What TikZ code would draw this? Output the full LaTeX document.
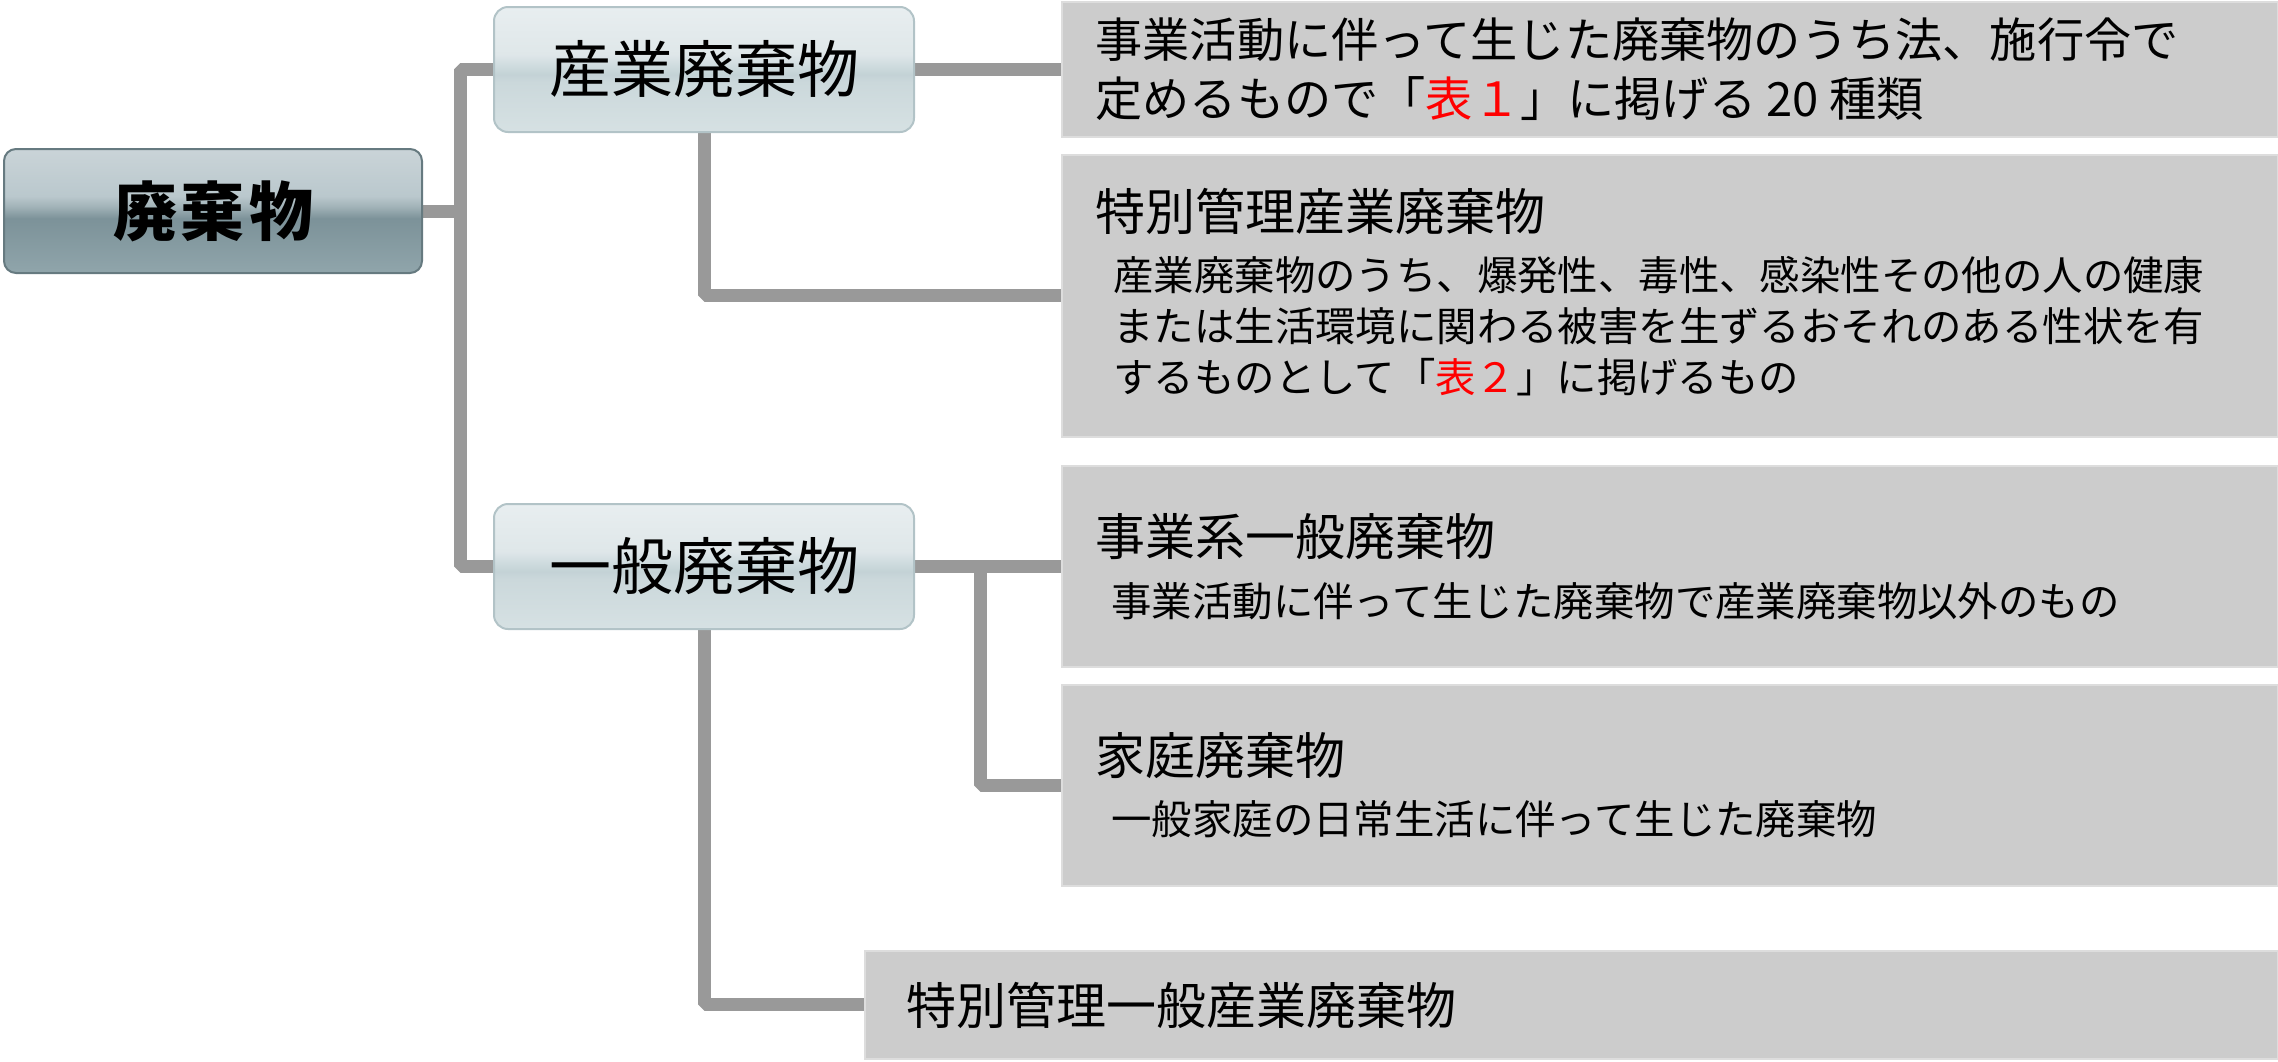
\documentclass[tikz,border=0pt]{standalone}
\usepackage{fontspec}
\setmainfont{Noto Sans CJK JP}
\usetikzlibrary{calc,backgrounds}
\definecolor{conncol}{HTML}{999999}
\definecolor{descfill}{HTML}{CCCCCC}
\definecolor{descline}{HTML}{DDDDDD}
\definecolor{rootline}{HTML}{667A80}
\definecolor{catline}{HTML}{B2C3C7}
\definecolor{rA}{HTML}{90A5AB}
\definecolor{rB}{HTML}{7C9299}
\definecolor{rC}{HTML}{A3B4B9}
\definecolor{rD}{HTML}{BAC8CD}
\definecolor{rE}{HTML}{CAD4D8}
\definecolor{cA}{HTML}{D6E1E3}
\definecolor{cB}{HTML}{CBD8DB}
\definecolor{cC}{HTML}{C3D2D6}
\definecolor{cD}{HTML}{D0DCDF}
\definecolor{cE}{HTML}{DFE7E9}
\definecolor{cF}{HTML}{E8EEF0}
\definecolor{redtext}{HTML}{FF0000}
\pgfdeclareverticalshading{rootshade}{100bp}{color(0bp)=(rA); color(25bp)=(rA); color(47bp)=(rB); color(52bp)=(rC); color(56bp)=(rD); color(75bp)=(rE); color(100bp)=(rE)}
\pgfdeclareverticalshading{catshade}{100bp}{color(0bp)=(cA); color(25bp)=(cA); color(45bp)=(cB); color(48bp)=(cC); color(52bp)=(cD); color(56bp)=(cE); color(75bp)=(cF); color(100bp)=(cF)}
\begin{document}
\begin{tikzpicture}[x=0.5pt,y=-0.5pt,
  conn/.style={draw=conncol,line width=6.5pt,line join=bevel},
  rootbox/.style={draw=rootline,line width=1pt,rounded corners=6pt,shading=rootshade,inner sep=0pt,anchor=north west,minimum width=209pt,minimum height=62pt,font=\fontsize{32}{38}\selectfont\bfseries},
  catbox/.style={draw=catline,line width=1pt,rounded corners=7pt,shading=catshade,inner sep=0pt,anchor=north west,minimum width=210pt,minimum height=62.5pt,font=\fontsize{31}{37}\selectfont},
  descbox/.style={draw=descline,line width=0.8pt,fill=descfill,inner sep=0pt,anchor=north west,minimum width=608pt},
  lead/.style={anchor=west,inner sep=0pt,font=\fontsize{23.6}{28}\selectfont},
  dtitle/.style={anchor=west,inner sep=0pt,font=\fontsize{25}{30}\selectfont},
  dbody/.style={anchor=west,inner sep=0pt,font=\fontsize{20.2}{25}\selectfont}
]
\useasboundingbox (0,0) rectangle (2278,1061);

% category boxes
\node[rootbox] (root) at (3,148) {廃\hspace{2pt}棄\hspace{2pt}物\hspace{9pt}};
\node[catbox] (sangyo) at (493,6) {産業廃棄物};
\node[catbox] (ippan) at (493,503) {一般廃棄物};

% description boxes
\node[descbox,minimum height=67.5pt] (d1) at (1061,1) {};
\node[descbox,minimum height=141pt] (d2) at (1061,154) {};
\node[descbox,minimum height=100.5pt] (d3) at (1061,465) {};
\node[descbox,minimum height=100.5pt] (d4) at (1061,684) {};
\node[descbox,minimum width=706.5pt,minimum height=54pt] (d5) at (864,950) {};

% texts
\node[lead] (d1a) at (1095,40) {事業活動に伴って生じた廃棄物のうち法、施行令で};
\node[lead] (d1b) at (1095,98.5) {定めるもので「\textcolor{redtext}{表１}」に掲げる 20 種類};

\node[dtitle] (d2t) at (1095,211) {特別管理産業廃棄物};
\node[dbody] (d2a) at (1113,275) {産業廃棄物のうち、爆発性、毒性、感染性その他の人の健康};
\node[dbody] (d2b) at (1113,326) {または生活環境に関わる被害を生ずるおそれのある性状を有};
\node[dbody] (d2c) at (1113,377) {するものとして「\textcolor{redtext}{表２}」に掲げるもの};

\node[dtitle] (d3t) at (1095,537) {事業系一般廃棄物};
\node[dbody] (d3a) at (1111,601) {事業活動に伴って生じた廃棄物で産業廃棄物以外のもの};

\node[dtitle] (d4t) at (1095,756) {家庭廃棄物};
\node[dbody] (d4a) at (1111,819) {一般家庭の日常生活に伴って生じた廃棄物};

\node[dtitle] (d5t) at (906,1005) {特別管理一般産業廃棄物};

% connectors
\coordinate (trunk) at (460,0);
\coordinate (branch) at (980,0);
\begin{scope}[on background layer]
\draw[conn] (root.east) -- (root.east -| trunk);
\draw[conn] (sangyo.west) -- (sangyo.west -| trunk) -- (ippan.west -| trunk) -- (ippan.west);
\draw[conn] (sangyo.east) -- (sangyo.east -| d1.west);
\draw[conn] (sangyo.south) |- (d2.west);
\draw[conn] (ippan.east) -- (ippan.east -| d3.west);
\draw[conn] (ippan.east -| branch) |- (d4.west);
\draw[conn] (ippan.south) |- (d5.west);
\end{scope}
\end{tikzpicture}
\end{document}
